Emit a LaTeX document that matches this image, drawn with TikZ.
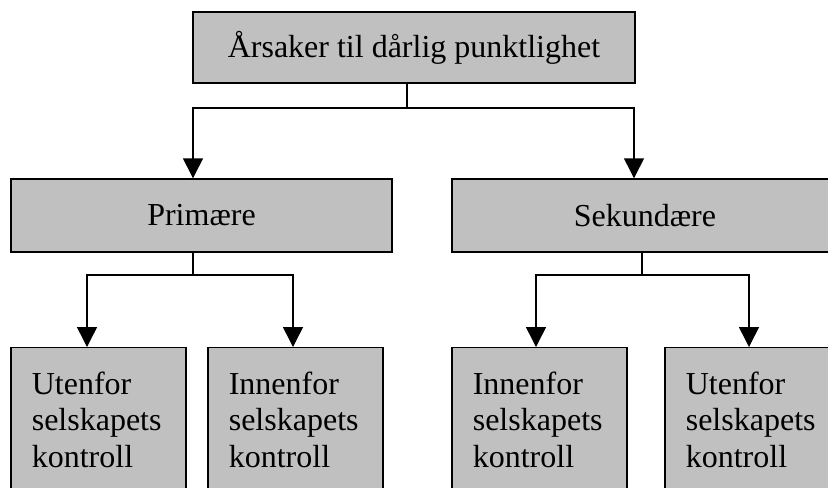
\documentclass[tikz,border=0pt]{standalone}
\usepackage{fontspec}
\setmainfont{Liberation Serif}
\usetikzlibrary{arrows.meta, calc}
\definecolor{boxgray}{RGB}{192,192,192}

\begin{document}
\begin{tikzpicture}[
    x=0.75pt, y=-0.75pt,
    box/.style={draw, line width=1.1pt, fill=boxgray, font=\fontsize{24}{27.5}\selectfont, inner sep=0pt},
    leaf/.style={box, anchor=north, text width=100pt, inner xsep=15.75pt, align=left, minimum height=108pt},
    link/.style={line width=1.1pt},
    arr/.style={link, -{Triangle[width=15pt, length=15pt]}}
]
    \useasboundingbox (0,0) rectangle (828,487);
    \clip (0,0) rectangle (828,487);

    \node[box, minimum width=331.5pt, minimum height=53.25pt] (cause) at (414,47.5) {Årsaker til dårlig punktlighet};
    \node[box, minimum width=285.75pt, minimum height=54.75pt] (prim) at (201.5,215.5) {Primære};
    \node[box, minimum width=289.5pt, minimum height=54.75pt] (sek) at (645,215.5) {Sekundære};

    % leaf boxes, cut off at the lower edge
    \node[leaf] (primout) at (98.5,347) {Utenfor\\selskapets\\kontroll};
    \node[leaf] (primin) at (295.5,347) {Innenfor\\selskapets\\kontroll};
    \node[leaf] (sekin) at (539.5,347) {Innenfor\\selskapets\\kontroll};
    \node[leaf] (sekout) at (752.5,347) {Utenfor\\selskapets\\kontroll};

    \coordinate (split0) at (407,108);
    \coordinate (split1) at (193,275);
    \coordinate (split2) at (642,275);

    \draw[link] (cause.south -| split0) -- (split0);
    \draw[arr] (split0) -| ($(prim.north)+(-8.5,0)$);
    \draw[arr] (split0) -| ($(sek.north)+(-11,0)$);

    \draw[link] (prim.south -| split1) -- (split1);
    \draw[arr] (split1) -| ($(primout.north)+(-11.5,0)$);
    \draw[arr] (split1) -| ($(primin.north)+(-2.5,0)$);

    \draw[link] (sek.south -| split2) -- (split2);
    \draw[arr] (split2) -| ($(sekin.north)+(-3.5,0)$);
    \draw[arr] (split2) -| ($(sekout.north)+(-3.5,0)$);
\end{tikzpicture}
\end{document}
